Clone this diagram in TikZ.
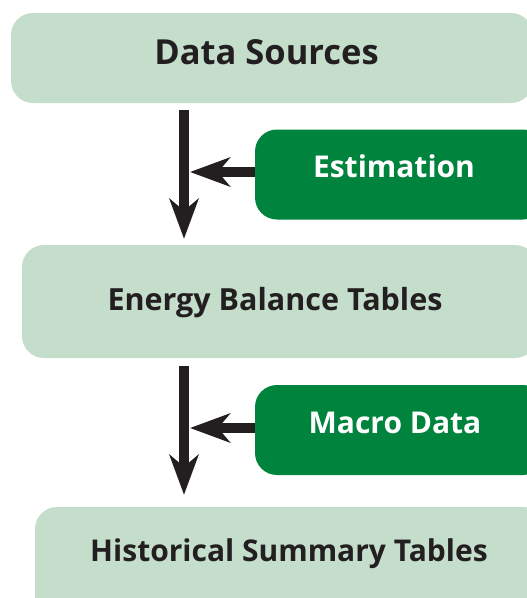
\documentclass[tikz,border=0pt]{standalone}
\usepackage{fontspec}
\setmainfont{Open Sans}
\usetikzlibrary{arrows.meta}
\definecolor{lightbox}{HTML}{C4DECB}
\definecolor{darkbox}{HTML}{00843D}
\definecolor{ink}{HTML}{231F20}
\tikzset{
  lightstep/.style={fill=lightbox, draw=none, rounded corners=22pt, inner sep=0pt},
  darkstep/.style={fill=darkbox, draw=none, rounded corners=22pt, inner sep=0pt},
  lbl/.style={anchor=base, text=ink, font=\bfseries\fontsize{30}{36}\selectfont, inner sep=0pt},
  wlbl/.style={anchor=base, text=white, font=\bfseries\fontsize{30}{36}\selectfont, inner sep=0pt},
  flow/.style={draw=ink, line width=10pt, -{Stealth[length=40pt, width=29pt, inset=12pt]}},
}
\begin{document}
\begin{tikzpicture}[x=1pt, y=-1pt]
\useasboundingbox (0,0) rectangle (527,598);
\coordinate (vx) at (184,0);
\node[lightstep, minimum width=522pt, minimum height=90pt] (ds) at (272,58) {};
\node[darkstep, minimum width=290pt, minimum height=90pt] (est) at (400,174.5) {};
\node[lightstep, minimum width=515pt, minimum height=113pt] (ebt) at (279.5,301.5) {};
\node[darkstep, minimum width=290pt, minimum height=90pt] (mac) at (400,430) {};
\node[lightstep, minimum width=510pt, minimum height=140pt] (hst) at (290,577) {};
\node[lbl, font=\bfseries\fontsize{34.5}{40}\selectfont] (tds) at (266.5,64.5) {Data Sources};
\node[wlbl] (test) at (394,177) {Estimation};
\node[lbl, font=\bfseries\fontsize{30.5}{36}\selectfont] (tebt) at (275,310) {Energy Balance Tables};
\node[wlbl] (tmac) at (395,433) {Macro Data};
\node[lbl] (thst) at (289,561) {Historical Summary Tables};
\draw[flow] ([yshift=-7pt]ds.south -| vx) -- ([yshift=6pt]ebt.north -| vx);
\draw[flow] ([yshift=-8pt]ebt.south -| vx) -- ([yshift=12pt]hst.north -| vx);
\draw[flow] ([yshift=2.5pt]est.west) -- ([yshift=2.5pt, xshift=6pt]est.west -| vx);
\draw[flow] ([yshift=2pt]mac.west) -- ([yshift=2pt, xshift=6pt]mac.west -| vx);
\end{tikzpicture}
\end{document}
